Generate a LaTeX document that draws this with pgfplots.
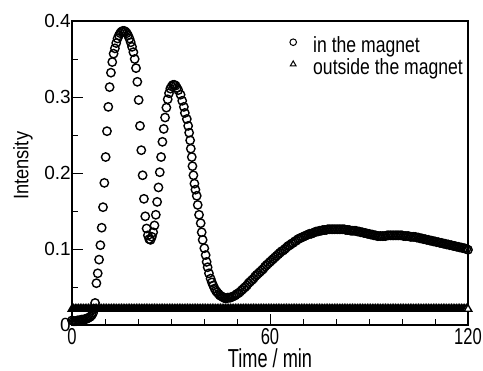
\documentclass[border=0pt]{standalone}
\usepackage{pgfplots}
\pgfplotsset{compat=1.18}
\usepackage{fontspec}
\setmainfont{Liberation Sans}
\newfontfamily\xtf[FakeStretch=0.72]{Liberation Sans}
\newfontfamily\lgf[FakeStretch=0.8]{Liberation Sans}
\newfontfamily\xlf[FakeStretch=0.7]{Liberation Sans}
\newfontfamily\ylf[FakeStretch=0.87]{Liberation Sans}
\pgfplotsset{myleg/.style={legend image code/.code={\draw[##1, mark size=3.3pt, mark options={line width=1pt, fill=white}] plot coordinates {(0pt,4.5pt)}; \path[draw=none,fill=none] (-4pt,-4pt) rectangle (20pt,4pt);}}}
\begin{document}
\begin{tikzpicture}
\useasboundingbox (-72pt,-46pt) rectangle (411pt,325pt);
\begin{axis}[
  at={(0,0)}, anchor=south west,
  scale only axis, width=396pt, height=304pt,
  xmin=0, xmax=120, ymin=0, ymax=0.4,
  xtick={0,60,120}, xticklabels={0,60,120},
  minor xtick={10,20,30,40,50,70,80,90,100,110},
  ytick={0,0.1,0.2,0.3,0.4}, yticklabels={0,0.1,0.2,0.3,0.4},
  minor ytick={0.05,0.15,0.25,0.35},
  tick align=inside, tick pos=left,
  major tick length=11pt, minor tick length=6pt,
  every tick/.style={line width=0.9pt, black},
  axis line style={line width=1.1pt},
  xticklabel style={font=\fontsize{23}{26}\selectfont\xtf, inner sep=0pt, text height=16.5pt, text depth=0pt, yshift=-3pt},
  yticklabel style={font=\fontsize{19}{22}\selectfont, inner sep=1pt},
  xlabel={Time / min},
  xlabel style={font=\fontsize{26}{30}\selectfont\xlf, at={(axis description cs:0.5,-0.1405)}, anchor=base, inner sep=0pt, text depth=0pt},
  ylabel={Intensity},
  ylabel style={font=\fontsize{21}{24}\selectfont\ylf, at={(axis description cs:-0.1104,0.5234)}, anchor=base},
  clip=false,
  legend cell align=left,
  legend style={at={(axis description cs:0.548,0.9506)}, anchor=north west, draw=none, fill=none,
    inner sep=0pt, row sep=1pt, column sep=0pt,
    font=\fontsize{22}{26}\selectfont\lgf,
    nodes={inner sep=0pt, text height=16pt, text depth=5pt}},
]
\addplot[only marks, mark=o, mark size=4.2pt, mark options={line width=1.4pt, draw=black}, myleg]
coordinates {
(0,0.006)(0.4,0.005)(0.8,0.005)(1.2,0.005)(1.6,0.006)(2.0,0.006)(2.4,0.006)(2.8,0.007)(3.2,0.007)(3.6,0.007)
(4.0,0.008)(4.4,0.008)(4.8,0.009)(5.2,0.010)(5.6,0.011)(6.0,0.013)(6.4,0.016)(6.7,0.021)
(7.0,0.029)(7.4,0.055)(7.8,0.068)(8.2,0.086)(8.6,0.105)(9.0,0.128)(9.4,0.155)(9.8,0.187)(10.2,0.221)(10.6,0.255)
(11.0,0.287)(11.4,0.313)(11.8,0.332)(12.2,0.346)(12.6,0.357)(13.0,0.364)(13.4,0.371)(13.8,0.377)(14.2,0.381)(14.6,0.384)
(15.0,0.386)(15.4,0.387)(15.8,0.387)(16.2,0.386)(16.6,0.384)(17.0,0.381)(17.4,0.377)(17.8,0.372)(18.2,0.366)(18.6,0.359)
(19.0,0.350)(19.4,0.338)(19.8,0.320)(20.2,0.296)(20.6,0.262)(21.0,0.230)(21.4,0.197)(21.8,0.166)(22.2,0.143)(22.6,0.127)
(23.0,0.118)(23.4,0.113)(23.8,0.112)
(24.2,0.116)(24.6,0.122)(25.0,0.131)(25.4,0.145)(25.8,0.162)(26.2,0.181)(26.6,0.201)(27.0,0.221)(27.4,0.241)(27.8,0.258)
(28.2,0.273)(28.6,0.286)(29.0,0.297)(29.4,0.305)(29.8,0.311)(30.2,0.314)(30.6,0.316)(31.0,0.316)
(31.4,0.315)(31.8,0.312)(32.2,0.309)(32.9,0.303)(33.4,0.295)(33.9,0.287)(34.2,0.279)(34.8,0.271)(35.2,0.262)(35.5,0.253)
(35.8,0.243)(36.0,0.232)(36.3,0.221)(36.5,0.209)(36.8,0.197)(37.1,0.186)(37.4,0.178)(37.8,0.170)(38.1,0.158)(38.5,0.145)
(39.0,0.134)(39.3,0.122)(39.6,0.112)(40.1,0.101)(40.5,0.092)(40.8,0.083)(41.1,0.076)(41.5,0.068)(42.0,0.061)(42.4,0.056)
(42.8,0.052)(43.2,0.048)(43.6,0.045)(44.0,0.043)(44.4,0.041)(44.8,0.039)(45.2,0.038)(45.6,0.037)(46.0,0.036)(46.4,0.035)
(46.8,0.035)(47.2,0.036)(47.6,0.036)
(48.0,0.036)(48.5,0.037)(49.0,0.038)(49.5,0.039)(50.0,0.041)(50.5,0.042)(51.0,0.044)(51.5,0.046)(52.0,0.048)(52.5,0.050)
(53.0,0.052)(53.5,0.055)(54.0,0.057)(54.5,0.059)(55.0,0.061)(55.5,0.064)(56.0,0.066)(56.5,0.068)(57.0,0.070)(57.5,0.072)
(58.0,0.074)(58.5,0.077)(59.0,0.079)(59.5,0.081)(60.0,0.083)(60.5,0.085)(61.0,0.087)(61.5,0.089)(62.0,0.091)(62.5,0.093)
(63.0,0.095)(63.5,0.097)(64.0,0.098)(64.5,0.100)(65.0,0.102)(65.5,0.104)(66.0,0.105)(66.5,0.107)(67.0,0.108)(67.5,0.110)
(68.0,0.111)(68.5,0.113)(69.0,0.114)(69.5,0.115)(70.0,0.116)(70.5,0.117)(71.0,0.118)(71.5,0.119)(72.0,0.120)(72.5,0.120)
(73.0,0.121)(73.5,0.122)(74.0,0.123)(74.5,0.123)(75.0,0.124)(75.5,0.124)(76.0,0.125)(76.5,0.125)(77.0,0.125)(77.5,0.126)
(78.0,0.126)(78.5,0.126)(79.0,0.126)(79.5,0.126)(80.0,0.126)(80.5,0.126)(81.0,0.126)(81.5,0.126)(82.0,0.126)(82.5,0.126)
(83.0,0.125)(83.5,0.125)(84.0,0.125)(84.5,0.124)(85.0,0.124)(85.5,0.124)(86.0,0.124)(86.5,0.123)(87.0,0.123)(87.5,0.122)
(88.0,0.122)(88.5,0.121)(89.0,0.121)(89.5,0.120)(90.0,0.120)(90.5,0.119)(91.0,0.119)(91.5,0.118)(92.0,0.118)(92.5,0.117)
(93.0,0.117)(93.5,0.117)(94.0,0.117)(94.5,0.117)(95.0,0.117)(95.5,0.118)(96.0,0.118)(96.5,0.118)(97.0,0.118)(97.5,0.118)
(98.0,0.118)(98.5,0.118)(99.0,0.118)(99.5,0.118)(100.0,0.118)(100.5,0.117)(101.0,0.117)(101.5,0.117)(102.0,0.117)(102.5,0.116)
(103.0,0.116)(103.5,0.116)(104.0,0.116)(104.5,0.115)(105.0,0.115)(105.5,0.114)(106.0,0.114)(106.5,0.113)(107.0,0.113)(107.5,0.112)
(108.0,0.112)(108.5,0.111)(109.0,0.111)(109.5,0.110)(110.0,0.110)(110.5,0.109)(111.0,0.109)(111.5,0.108)(112.0,0.108)(112.5,0.107)
(113.0,0.107)(113.5,0.106)(114.0,0.106)(114.5,0.105)(115.0,0.105)(115.5,0.104)(116.0,0.104)(116.5,0.103)(117.0,0.103)(117.5,0.102)
(118.0,0.102)(118.5,0.101)(119.0,0.101)(119.5,0.100)(120.0,0.099)
};
\addlegendentry{in the magnet}
\addplot[only marks, mark=triangle*, mark size=4.4pt, mark options={line width=1.4pt, draw=black, fill=black}, myleg]
coordinates {
(0,0.021)(0.5,0.021)(1,0.021)(1.5,0.021)(2,0.021)(2.5,0.021)(3,0.021)(3.5,0.021)(4,0.021)(4.5,0.021)
(5,0.021)(5.5,0.021)(6,0.021)(6.5,0.021)(7,0.021)(7.5,0.021)(8,0.021)(8.5,0.021)(9,0.021)(9.5,0.021)
(10,0.021)(10.5,0.021)(11,0.021)(11.5,0.021)(12,0.021)(12.5,0.021)(13,0.021)(13.5,0.021)(14,0.021)(14.5,0.021)
(15,0.021)(15.5,0.021)(16,0.021)(16.5,0.021)(17,0.021)(17.5,0.021)(18,0.021)(18.5,0.021)(19,0.021)(19.5,0.021)
(20,0.021)(20.5,0.021)(21,0.021)(21.5,0.021)(22,0.021)(22.5,0.021)(23,0.021)(23.5,0.021)(24,0.021)(24.5,0.021)
(25,0.021)(25.5,0.021)(26,0.021)(26.5,0.021)(27,0.021)(27.5,0.021)(28,0.021)(28.5,0.021)(29,0.021)(29.5,0.021)
(30,0.021)(30.5,0.021)(31,0.021)(31.5,0.021)(32,0.021)(32.5,0.021)(33,0.021)(33.5,0.021)(34,0.021)(34.5,0.021)
(35,0.021)(35.5,0.021)(36,0.021)(36.5,0.021)(37,0.021)(37.5,0.021)(38,0.021)(38.5,0.021)(39,0.021)(39.5,0.021)
(40,0.021)(40.5,0.021)(41,0.021)(41.5,0.021)(42,0.021)(42.5,0.021)(43,0.021)(43.5,0.021)(44,0.021)(44.5,0.021)
(45,0.021)(45.5,0.021)(46,0.021)(46.5,0.021)(47,0.021)(47.5,0.021)(48,0.021)(48.5,0.021)(49,0.021)(49.5,0.021)
(50,0.021)(50.5,0.021)(51,0.021)(51.5,0.021)(52,0.021)(52.5,0.021)(53,0.021)(53.5,0.021)(54,0.021)(54.5,0.021)
(55,0.021)(55.5,0.021)(56,0.021)(56.5,0.021)(57,0.021)(57.5,0.021)(58,0.021)(58.5,0.021)(59,0.021)(59.5,0.021)
(60,0.021)(60.5,0.021)(61,0.021)(61.5,0.021)(62,0.021)(62.5,0.021)(63,0.021)(63.5,0.021)(64,0.021)(64.5,0.021)
(65,0.021)(65.5,0.021)(66,0.021)(66.5,0.021)(67,0.021)(67.5,0.021)(68,0.021)(68.5,0.021)(69,0.021)(69.5,0.021)
(70,0.021)(70.5,0.021)(71,0.021)(71.5,0.021)(72,0.021)(72.5,0.021)(73,0.021)(73.5,0.021)(74,0.021)(74.5,0.021)
(75,0.021)(75.5,0.021)(76,0.021)(76.5,0.021)(77,0.021)(77.5,0.021)(78,0.021)(78.5,0.021)(79,0.021)(79.5,0.021)
(80,0.021)(80.5,0.021)(81,0.021)(81.5,0.021)(82,0.021)(82.5,0.021)(83,0.021)(83.5,0.021)(84,0.021)(84.5,0.021)
(85,0.021)(85.5,0.021)(86,0.021)(86.5,0.021)(87,0.021)(87.5,0.021)(88,0.021)(88.5,0.021)(89,0.021)(89.5,0.021)
(90,0.021)(90.5,0.021)(91,0.021)(91.5,0.021)(92,0.021)(92.5,0.021)(93,0.021)(93.5,0.021)(94,0.021)(94.5,0.021)
(95,0.021)(95.5,0.021)(96,0.021)(96.5,0.021)(97,0.021)(97.5,0.021)(98,0.021)(98.5,0.021)(99,0.021)(99.5,0.021)
(100,0.021)(100.5,0.021)(101,0.021)(101.5,0.021)(102,0.021)(102.5,0.021)(103,0.021)(103.5,0.021)(104,0.021)(104.5,0.021)
(105,0.021)(105.5,0.021)(106,0.021)(106.5,0.021)(107,0.021)(107.5,0.021)(108,0.021)(108.5,0.021)(109,0.021)(109.5,0.021)
(110,0.021)(110.5,0.021)(111,0.021)(111.5,0.021)(112,0.021)(112.5,0.021)(113,0.021)(113.5,0.021)(114,0.021)(114.5,0.021)
(115,0.021)(115.5,0.021)(116,0.021)(116.5,0.021)(117,0.021)(117.5,0.021)(118,0.021)(118.5,0.021)(119,0.021)
};
\addlegendentry{outside the magnet}
\addplot[only marks, mark=triangle*, mark size=4.4pt, mark options={line width=1.4pt, draw=black, fill=white}, forget plot]
coordinates {(119.5,0.021)(120,0.021)};
\end{axis}
\end{tikzpicture}
\end{document}
